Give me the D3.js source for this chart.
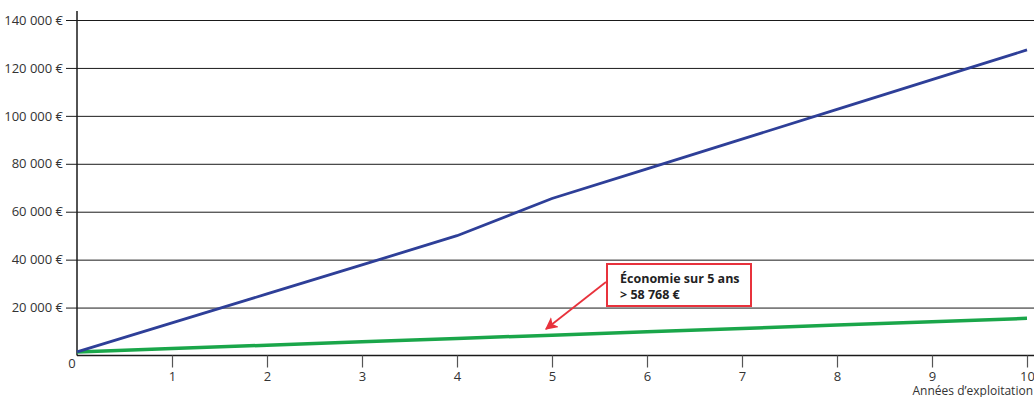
<!DOCTYPE html>
<html><head><meta charset="utf-8">
<script src="https://cdn.jsdelivr.net/npm/d3@7"></script>
<style>
html,body{margin:0;padding:0;background:#fff;}
text{font-family:"Open Sans","Noto Sans",sans-serif;}
</style></head>
<body>
<svg id="c" width="1034" height="397"></svg>
<script>
const years = [0,1,2,3,4,5,6,7,8,9,10];
const seriesBlue = [1500,13600,25700,37800,50000,65500,77900,90300,102700,115100,127500];
const seriesGreen = [1500,2900,4300,5700,7100,8500,9900,11300,12700,14100,15500];
const yTicks = [20000,40000,60000,80000,100000,120000,140000];
const xTicks = [1,2,3,4,5,6,7,8,9,10];
const xTitle = "Années d’exploitation";
const noteLines = ["Économie sur 5 ans", "> 58 768 €"];

const svg = d3.select("#c");
const x = d3.scaleLinear().domain([0,10]).range([77,1027]);
const y = d3.scaleLinear().domain([0,140000]).range([355.5,20]);
const loc = d3.formatLocale({decimal:",", thousands:"\u00a0", grouping:[3], currency:["","\u00a0€"]});
const fmt = v => loc.format(",")(v) + "\u00a0€";

// gridlines + y tick labels
const yAxis = d3.axisLeft(y).tickValues(yTicks).tickFormat(fmt).tickSizeInner(-(1034-77)).tickSizeOuter(0).tickPadding(4);
const gy = svg.append("g").attr("transform","translate(77,0)").call(yAxis);
gy.select(".domain").remove();
gy.selectAll(".tick line").attr("stroke","#1a1a1a").attr("stroke-width",1);
gy.selectAll(".tick").append("line").attr("x1",-11).attr("x2",0).attr("stroke","#1a1a1a");
gy.selectAll(".tick text").attr("x",-14).attr("fill","#333").style("font-size","13px");

// y axis line
svg.append("line").attr("x1",77).attr("x2",77).attr("y1",11).attr("y2",y(0)).attr("stroke","#1a1a1a").attr("stroke-width",1.5);

// x axis
const xAxis = d3.axisBottom(x).tickValues(xTicks).tickFormat(d3.format("d")).tickSizeInner(12).tickSizeOuter(0).tickPadding(4);
const gx = svg.append("g").attr("transform",`translate(0,${y(0)})`).call(xAxis);
gx.select(".domain").attr("stroke","#1a1a1a").attr("stroke-width",1.5).attr("d",`M77,0H1034`);
gx.selectAll(".tick line").attr("stroke","#555").attr("stroke-width",1.2);
gx.selectAll(".tick text").attr("fill","#333").style("font-size","13px");

svg.append("text").attr("x",x(0)-5).attr("y",y(0)+12).attr("text-anchor","middle").attr("fill","#333").style("font-size","13px").text("0");
svg.append("text").attr("x",1033).attr("y",394.5).attr("text-anchor","end").attr("fill","#333").style("font-size","12px").text(xTitle);

const line = d3.line().x((d,i)=>x(years[i])).y(d=>y(d));
svg.append("path").datum(seriesGreen).attr("d",line).attr("fill","none").attr("stroke","#1aa64a").attr("stroke-width",3.5);
svg.append("path").datum(seriesBlue).attr("d",line).attr("fill","none").attr("stroke","#2e3f98").attr("stroke-width",2.8);

// annotation
const red = "#e8323c";
const defs = svg.append("defs");
defs.append("marker").attr("id","ah").attr("viewBox","0 0 10 10").attr("refX",9).attr("refY",5)
  .attr("markerWidth",7).attr("markerHeight",7).attr("orient","auto").attr("markerUnits","strokeWidth")
  .append("path").attr("d","M0,0L10,5L0,10L2.5,5Z").attr("fill",red);
svg.append("line").attr("x1",606).attr("y1",282).attr("x2",546).attr("y2",329)
  .attr("stroke",red).attr("stroke-width",1.8).attr("marker-end","url(#ah)");
svg.append("rect").attr("x",607).attr("y",264).attr("width",144).attr("height",42)
  .attr("fill","#fff").attr("stroke",red).attr("stroke-width",2);
svg.selectAll(".note").data(noteLines).enter().append("text").attr("class","note")
  .attr("x",620).attr("y",(d,i)=>283+i*16).attr("fill","#222").style("font-size","12.5px").style("font-weight","bold").text(d=>d);
</script>
</body></html>
